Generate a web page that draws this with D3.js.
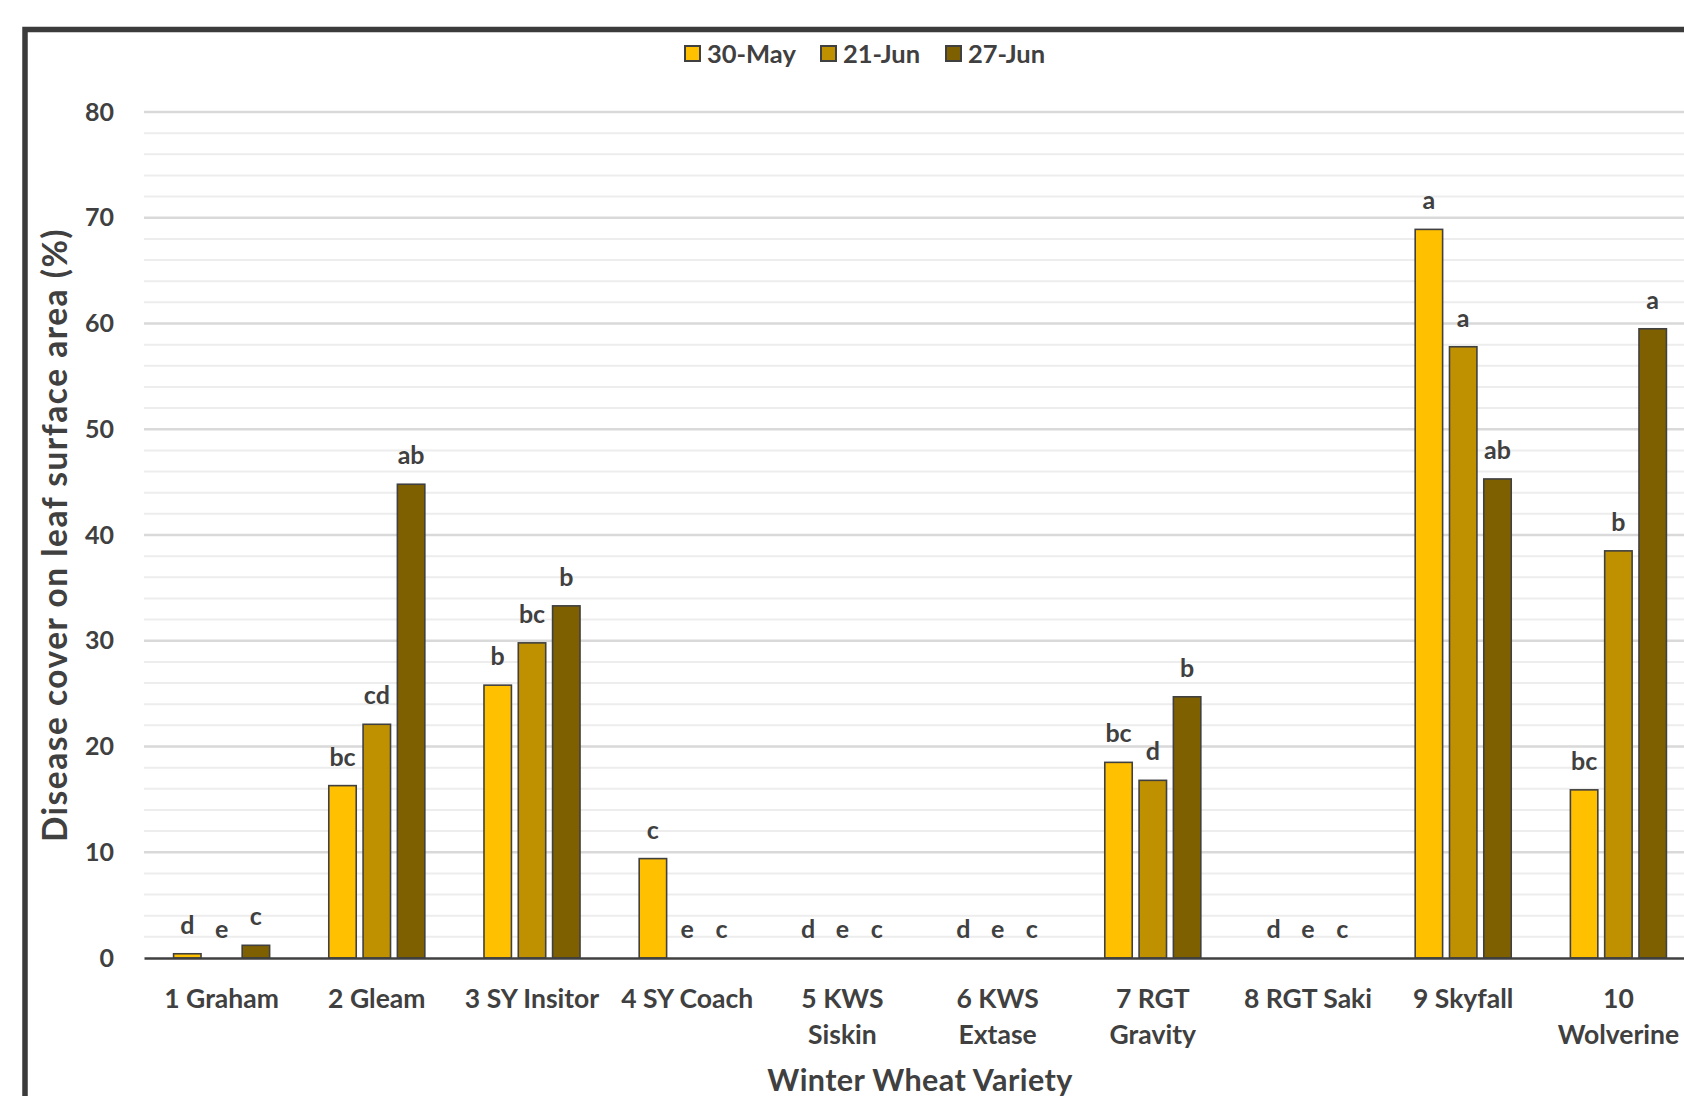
<!DOCTYPE html>
<html>
<head>
<meta charset="utf-8">
<script src="https://cdn.jsdelivr.net/npm/d3@7"></script>
<style>
	body { margin: 0; background: #fff; }
	text { font-family: Lato, "Open Sans", sans-serif; font-weight: bold; fill: #404040; }
</style>
</head>
<body>
<svg id="chart" width="1684" height="1096"></svg>
<script>
"use strict";

// categories (a "\n" breaks the tick label onto a second line)
var varieties = ["1 Graham", "2 Gleam", "3 SY Insitor", "4 SY Coach", "5 KWS\nSiskin",
	"6 KWS\nExtase", "7 RGT\nGravity", "8 RGT Saki", "9 Skyfall", "10\nWolverine"];

var dates = ["30-May", "21-Jun", "27-Jun"];
var dateColors = ["#FFC000", "#BF9000", "#7F6000"];

// disease cover (%) per sampling date
var may30 = [0.4, 16.3, 25.8, 9.4, 0, 0, 18.5, 0, 68.9, 15.9];
var jun21 = [0, 22.1, 29.8, 0, 0, 0, 16.8, 0, 57.8, 38.5];
var jun27 = [1.2, 44.8, 33.3, 0, 0, 0, 24.7, 0, 45.3, 59.5];

// significance letters per sampling date
var may30Letters = ["d", "bc", "b", "c", "d", "d", "bc", "d", "a", "bc"];
var jun21Letters = ["e", "cd", "bc", "e", "e", "e", "d", "e", "a", "b"];
var jun27Letters = ["c", "ab", "b", "c", "c", "c", "b", "c", "ab", "a"];

var yTicks = [0, 10, 20, 30, 40, 50, 60, 70, 80];

var seriesValues = [may30, jun21, jun27];
var seriesLetters = [may30Letters, jun21Letters, jun27Letters];

var svg = d3.select("#chart");

//
//	Outer chart frame (runs off the right and bottom of the picture)
//
svg.append("rect")
	.attr("x", 25).attr("y", 29.5)
	.attr("width", 1760).attr("height", 1200)
	.attr("fill", "none")
	.attr("stroke", "#3b3b3b")
	.attr("stroke-width", 5.5);

var plot = {left: 144, right: 1696, top: 112, bottom: 958};

var x = d3.scaleBand()
	.domain(varieties)
	.range([plot.left, plot.right])
	.padding(0);

var xSub = d3.scaleBand()
	.domain(dates)
	.range([0, x.bandwidth()])
	.paddingInner(0.2)
	.paddingOuter(0.8625);

var y = d3.scaleLinear()
	.domain([0, 80])
	.range([plot.bottom, plot.top]);

//
//	Gridlines: minor every 2, major every 10
//
var grid = svg.append("g");
grid.selectAll("line.minor")
	.data(d3.range(2, 80, 2).filter(function(v){ return v % 10 != 0; }))
	.join("line")
	.attr("class", "minor")
	.attr("x1", plot.left).attr("x2", plot.right)
	.attr("y1", function(d){ return y(d); })
	.attr("y2", function(d){ return y(d); })
	.attr("stroke", "#ededed")
	.attr("stroke-width", 2);

grid.selectAll("line.major")
	.data(yTicks.slice(1))
	.join("line")
	.attr("class", "major")
	.attr("x1", plot.left).attr("x2", plot.right)
	.attr("y1", function(d){ return y(d); })
	.attr("y2", function(d){ return y(d); })
	.attr("stroke", "#d9d9d9")
	.attr("stroke-width", 2.5);

//
//	Y axis labels
//
var yAxis = d3.axisLeft(y).tickValues(yTicks).tickSize(0).tickPadding(0);
var yg = svg.append("g")
	.attr("transform", "translate(" + 114 + ",0)")
	.call(yAxis);
yg.select(".domain").remove();
yg.selectAll("text")
	.attr("font-size", 25)
	.attr("font-family", null)
	.attr("fill", "#404040");

//
//	Bars and letters
//
var groups = svg.append("g").selectAll("g")
	.data(dates)
	.join("g");

groups.each(function(date, si){
	var g = d3.select(this);
	var rows = varieties.map(function(v, i){
		return {variety: v, value: seriesValues[si][i], letter: seriesLetters[si][i]};
	});

	g.selectAll("rect")
		.data(rows.filter(function(d){ return d.value > 0; }))
		.join("rect")
		.attr("x", function(d){ return x(d.variety) + xSub(date); })
		.attr("y", function(d){ return y(d.value); })
		.attr("width", xSub.bandwidth())
		.attr("height", function(d){ return y(0) - y(d.value); })
		.attr("fill", dateColors[si])
		.attr("stroke", "#404040")
		.attr("stroke-width", 1.6);

	g.selectAll("text")
		.data(rows)
		.join("text")
		.attr("x", function(d){ return x(d.variety) + xSub(date) + xSub.bandwidth() / 2; })
		.attr("y", function(d){ return y(d.value) - 20; })
		.attr("text-anchor", "middle")
		.attr("font-size", 25)
		.text(function(d){ return d.letter; });
});

//
//	X axis line and category labels
//
var xAxis = d3.axisBottom(x).tickSize(0).tickFormat("");
var xg = svg.append("g")
	.attr("transform", "translate(0," + y(0) + ")")
	.call(xAxis);
xg.select(".domain")
	.attr("stroke", "#404040")
	.attr("stroke-width", 2.5);

xg.selectAll(".tick").each(function(d){
	var lines = d.split("\n");
	var t = d3.select(this).append("text")
		.attr("text-anchor", "middle")
		.attr("font-size", 26.5);
	lines.forEach(function(line, k){
		t.append("tspan")
			.attr("x", 0)
			.attr("y", 50 + k * 36)
			.text(line);
	});
});

//
//	Axis titles
//
svg.append("text")
	.attr("x", (plot.left + plot.right) / 2)
	.attr("y", 1091)
	.attr("text-anchor", "middle")
	.attr("font-size", 30.5)
	.attr("letter-spacing", 0.4)
	.text("Winter Wheat Variety");

svg.append("text")
	.attr("transform", "translate(67," + (plot.top + plot.bottom) / 2 + ") rotate(-90)")
	.attr("text-anchor", "middle")
	.attr("font-size", 33.5)
	.attr("letter-spacing", 1.5)
	.text("Disease cover on leaf surface area (%)");

//
//	Legend
//
var legendX = [685, 821, 946];
var legend = svg.append("g").selectAll("g")
	.data(dates)
	.join("g")
	.attr("transform", function(d, i){ return "translate(" + legendX[i] + ",46)"; });

legend.append("rect")
	.attr("width", 15).attr("height", 15)
	.attr("fill", function(d, i){ return dateColors[i]; })
	.attr("stroke", "#404040")
	.attr("stroke-width", 2);

legend.append("text")
	.attr("x", 22)
	.attr("y", 16.5)
	.attr("font-size", 25.5)
	.text(function(d){ return d; });
</script>
</body>
</html>
